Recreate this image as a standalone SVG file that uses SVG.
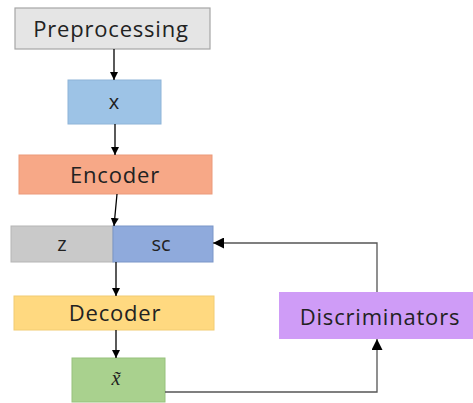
<svg xmlns="http://www.w3.org/2000/svg" width="473" height="403" viewBox="0 0 473 403">
<defs>
<marker id="ah" viewBox="0 0 10 10" refX="10" refY="5" markerWidth="8" markerHeight="8" markerUnits="userSpaceOnUse" orient="auto">
<path d="M0,0 L10,5 L0,10 z" fill="#000"/>
</marker>
<marker id="ah2" viewBox="0 0 10 10" refX="10" refY="5" markerWidth="11" markerHeight="11" markerUnits="userSpaceOnUse" orient="auto">
<path d="M0,0 L10,5 L0,10 z" fill="#000"/>
</marker>
</defs>
<style>
text{font-family:"Open Sans","Noto Sans","Liberation Sans",sans-serif;font-size:22px;letter-spacing:0.8px;fill:#222;text-anchor:middle;dominant-baseline:central}
.s{font-size:20px;letter-spacing:0}
.c{fill:none;stroke:#000;stroke-width:1.3}
.g{fill:none;stroke:#555;stroke-width:1.3}
</style>
<rect width="473" height="403" fill="#fff"/>
<g id="preprocessing"><rect x="15" y="8" width="195" height="41" fill="#e5e5e5" stroke="#a6a6a6" stroke-width="1.2"/><text x="111" y="28">Preprocessing</text></g>
<g id="x"><rect x="68" y="80" width="93" height="44" fill="#9dc3e6" stroke="#8eb4d8" stroke-width="1"/><text class="s" x="114" y="101">x</text></g>
<g id="encoder"><rect x="19" y="155" width="193" height="39" fill="#f7a887" stroke="#eb9a7a" stroke-width="1"/><text x="115" y="174">Encoder</text></g>
<g id="z"><rect x="11" y="226" width="102" height="36" fill="#c9c9c9" stroke="#b5b5b5" stroke-width="1"/><text class="s" x="62" y="243">z</text></g>
<g id="sc"><rect x="113" y="226" width="100" height="36" fill="#8faadc" stroke="#7a96c8" stroke-width="1"/><text class="s" x="161" y="243">sc</text></g>
<g id="decoder"><rect x="14" y="296" width="200" height="34" fill="#ffd980" stroke="#f2cc72" stroke-width="1"/><text x="115" y="312">Decoder</text></g>
<g id="xtilde"><rect x="72" y="358" width="93" height="44" fill="#a9d18e" stroke="#97c17c" stroke-width="1"/><text x="116" y="378" style="font-family:'Liberation Serif',serif;font-style:italic;font-size:20px;letter-spacing:0">x̃</text></g>
<g id="discriminators"><rect x="279" y="292" width="194" height="47" fill="#cf9cf7"/><text x="380" y="316">Discriminators</text></g>
<g id="connectors">
<line class="c" x1="114" y1="49" x2="114" y2="80" marker-end="url(#ah)"/>
<line class="c" x1="115" y1="124" x2="115" y2="155" marker-end="url(#ah)"/>
<line class="c" x1="117" y1="194" x2="114" y2="226" marker-end="url(#ah)"/>
<line class="c" x1="116" y1="262" x2="116" y2="296" marker-end="url(#ah)"/>
<line class="c" x1="116" y1="330" x2="116" y2="358" marker-end="url(#ah)"/>
<polyline class="g" points="165,392 377,392 377,339" marker-end="url(#ah2)"/>
<polyline class="g" points="377,292 377,243 213,243" marker-end="url(#ah2)"/>
</g>
</svg>
